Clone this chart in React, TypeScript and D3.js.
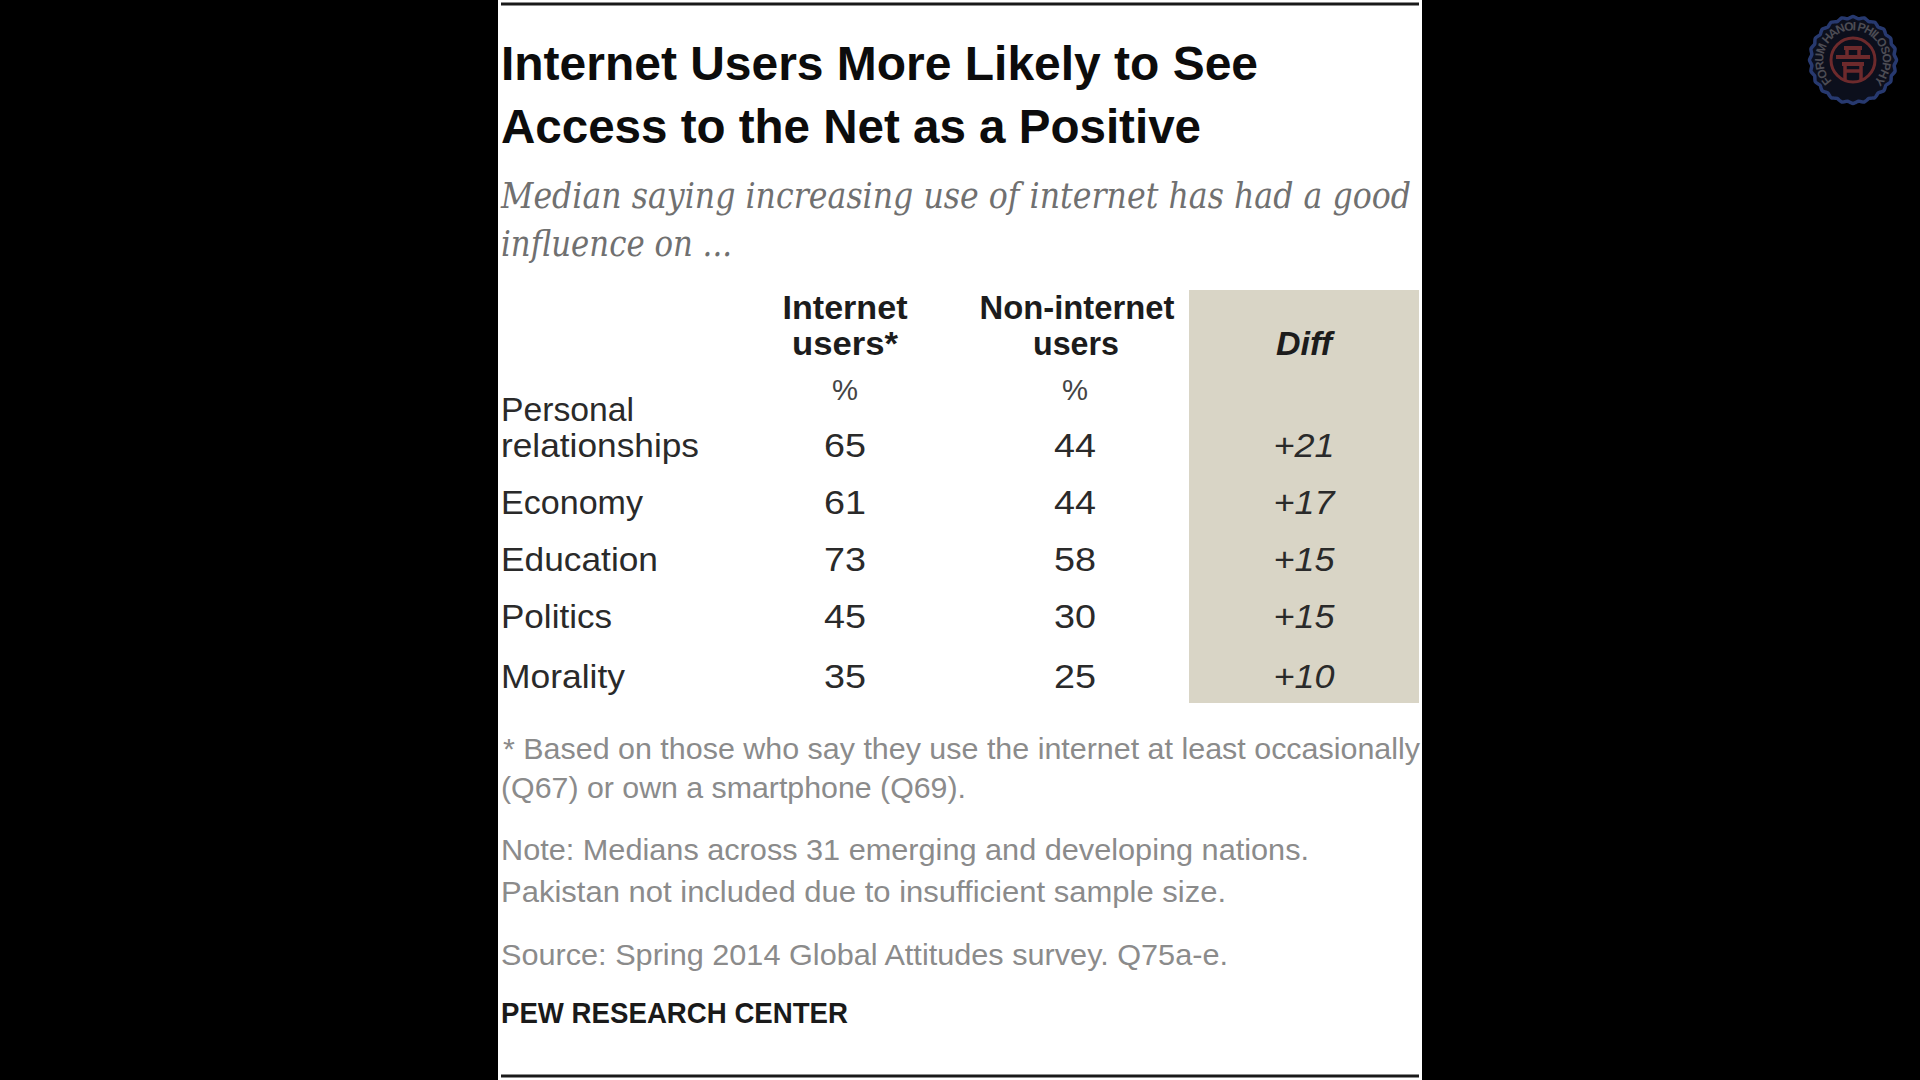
import React from "react";
import * as d3 from "d3";

const categories = ["Personal relationships", "Economy", "Education", "Politics", "Morality"];
const internetUsers = [65, 61, 73, 45, 35];
const nonInternetUsers = [44, 44, 58, 30, 25];
const diffLabels = ["+21", "+17", "+15", "+15", "+10"];
const labelLines = [["Personal", "relationships"], ["Economy"], ["Education"], ["Politics"], ["Morality"]];
const labelWidths = [[133, 198], [142], [157], [111], [124]];
const columns = ["label", "internet", "nonInternet", "diff"];

const rowBaselines = [457, 514, 571, 628, 688];
const columnCentres = [501, 845, 1075, 1304];

const sans = "'Liberation Sans Narrow','Liberation Sans',sans-serif";
const serif = "'DejaVu Serif',serif";
const INK = "#1c1c1c";
const GREY = "#8b8b8b";

const rowY = d3.scaleOrdinal<string, number>().domain(categories).range(rowBaselines);
const colX = d3.scaleOrdinal<string, number>().domain(columns).range(columnCentres);

function T(props: any) {
  const { x, y, w, size, fill = INK, weight = 400, italic, family = sans, anchor = "start", children } = props;
  return (
    <text x={x} y={y} fontSize={size} fill={fill} fontWeight={weight} fontStyle={italic ? "italic" : "normal"}
      fontFamily={family} textAnchor={anchor} textLength={w} lengthAdjust="spacingAndGlyphs">
      {children}
    </text>
  );
}

function Logo() {
  const cx = 1853, cy = 60;
  const n = 24;
  const scallop = d3.lineRadial<number>()
    .angle((_, i) => (i / (n * 4)) * 2 * Math.PI)
    .radius((_, i) => 41.5 + (i % 4 === 0 ? 2 : i % 2 === 0 ? 0 : 1))
    .curve(d3.curveCardinalClosed)(d3.range(n * 4));
  const red = "#6d2a2c";
  return (
    <g transform={`translate(${cx},${cy})`}>
      <path d={scallop || ""} fill="#0c0f1c" stroke="#27396f" strokeWidth={3.5} />
      <defs>
        <path id="logoRing" d="M -21 21 A 29.7 29.7 0 1 1 21 21" />
      </defs>
      <text fontFamily="'Liberation Sans',sans-serif" fontWeight={700} fontSize={12} fill="#4c4c54">
        <textPath href="#logoRing" startOffset="0" textLength={140} lengthAdjust="spacing">FORUM HANOI PHILOSOPHY</textPath>
      </text>
      <circle r={22} fill="none" stroke={red} strokeWidth={3} />
      <path d="M-9 -12 H9 M-17 -3 H17 M-11 4 H11" stroke={red} strokeWidth={4} fill="none" />
      <path d="M-8 21 V4 M8 21 V4 M-6 -12 V-3 M6 -12 V-3 M-8 11 H8" stroke={red} strokeWidth={3.5} fill="none" />
    </g>
  );
}

export default function App() {
  return (
    <svg width={1920} height={1080} viewBox="0 0 1920 1080"
      style={{ position: "fixed", left: 0, top: 0, display: "block", background: "#000" }}>
      <rect x={0} y={0} width={1920} height={1080} fill="#000" />
      <rect x={498} y={0} width={924} height={1080} fill="#fff" />
      <line x1={501} x2={1419} y1={4} y2={4} stroke="#1a1a1a" strokeWidth={3} />
      <line x1={501} x2={1419} y1={1076} y2={1076} stroke="#1a1a1a" strokeWidth={3} />

      <T x={501} y={80} w={757} size={48} weight={700} fill="#0c0c0c">Internet Users More Likely to See</T>
      <T x={501} y={143} w={700} size={48} weight={700} fill="#0c0c0c">Access to the Net as a Positive</T>

      <T x={501} y={208} w={910} size={35} italic family={serif} fill="#707070">Median saying increasing use of internet has had a good</T>
      <T x={501} y={256} w={231} size={35} italic family={serif} fill="#707070">influence on ...</T>

      <rect x={1189} y={290} width={230} height={413} fill="#d9d5c6" />

      <T x={colX("internet")} y={319} w={125} size={33} weight={700} anchor="middle">Internet</T>
      <T x={colX("internet")} y={355} w={106} size={33} weight={700} anchor="middle">users*</T>
      <T x={colX("nonInternet") + 2} y={319} w={195} size={33} weight={700} anchor="middle">Non-internet</T>
      <T x={colX("nonInternet") + 1} y={355} w={86} size={33} weight={700} anchor="middle">users</T>
      <T x={colX("diff")} y={355} w={56} size={33} weight={700} italic anchor="middle">Diff</T>
      <T x={colX("internet")} y={400} w={26} size={30} anchor="middle" fill="#444">%</T>
      <T x={colX("nonInternet")} y={400} w={26} size={30} anchor="middle" fill="#444">%</T>

      {categories.map((c, i) => {
        const y = rowY(c);
        const lines = labelLines[i];
        return (
          <g key={c}>
            {lines.map((line, j) => (
              <T key={line} x={colX("label")} y={y - (lines.length - 1 - j) * 36} w={labelWidths[i][j]} size={33} fill="#2a2a2a">{line}</T>
            ))}
            <T x={colX("internet")} y={y} w={42} size={34} anchor="middle" fill="#2a2a2a">{internetUsers[i]}</T>
            <T x={colX("nonInternet")} y={y} w={42} size={34} anchor="middle" fill="#2a2a2a">{nonInternetUsers[i]}</T>
            <T x={colX("diff")} y={y} w={61} size={34} italic anchor="middle" fill="#2a2a2a">{diffLabels[i]}</T>
          </g>
        );
      })}

      <T x={503} y={759} w={917} size={30} fill={GREY}>* Based on those who say they use the internet at least occasionally</T>
      <T x={501} y={798} w={465} size={30} fill={GREY}>(Q67) or own a smartphone (Q69).</T>
      <T x={501} y={860} w={808} size={30} fill={GREY}>Note: Medians across 31 emerging and developing nations.</T>
      <T x={501} y={902} w={725} size={30} fill={GREY}>Pakistan not included due to insufficient sample size.</T>
      <T x={501} y={965} w={727} size={30} fill={GREY}>Source: Spring 2014 Global Attitudes survey. Q75a-e.</T>
      <T x={501} y={1023} w={347} size={30} weight={700} fill="#1a1a1a">PEW RESEARCH CENTER</T>

      <Logo />
    </svg>
  );
}
